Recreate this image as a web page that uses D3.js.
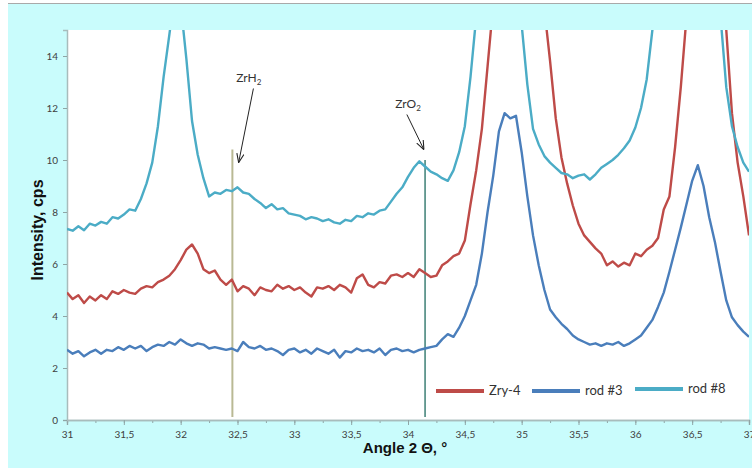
<!DOCTYPE html>
<html>
<head>
<meta charset="utf-8">
<style>
  body { margin: 0; background: #fff; }
  svg { display: block; }
  .tick text { font-family: Lato, "Open Sans", sans-serif; font-size: 10px; fill: #404040; }
</style>
</head>
<body>
<svg id="chart"></svg>
<script src="https://cdn.jsdelivr.net/npm/d3@7"></script>
<script>

  const width = 752,
        height = 468

  // plot box inside the picture
  const margin = {left: 67, top: 30, right: 3, bottom: 48}
  const plotW = width - margin.left - margin.right,
        plotH = height - margin.top - margin.bottom

  const colors = {zry: '#be4b48', rod3: '#4a7ebb', rod8: '#4bacc6',
                  bg: '#c9fcfc', text: '#404040'}

  // 2 theta, step 0.05 from 31 to 37
  const angle = d3.range(121).map(i => +(31 + i * 0.05).toFixed(2))

  const zry4 = [
    4.90, 4.65, 4.80, 4.50, 4.75, 4.60, 4.80, 4.65, 4.95, 4.85,
    5.00, 4.90, 4.85, 5.05, 5.15, 5.10, 5.30, 5.40, 5.55, 5.80,
    6.15, 6.55, 6.75, 6.40, 5.80, 5.65, 5.75, 5.40, 5.20, 5.40,
    4.95, 5.15, 5.05, 4.80, 5.10, 5.00, 4.95, 5.20, 5.05, 5.15,
    5.00, 5.10, 4.90, 4.75, 5.10, 5.05, 5.15, 5.00, 5.20, 5.10,
    4.90, 5.45, 5.60, 5.20, 5.10, 5.30, 5.25, 5.55, 5.60, 5.50,
    5.65, 5.50, 5.80, 5.65, 5.50, 5.55, 5.95, 6.10, 6.30, 6.40,
    6.90, 8.30, 9.60, 11.2, 13.6, 16.0, 18.5, 20.0, 20.5, 20.5,
    20.5, 20.0, 19.0, 17.5, 15.8, 13.8, 11.6, 10.1, 9.10, 8.25,
    7.55, 7.10, 6.85, 6.60, 6.40, 5.95, 6.10, 5.90, 6.05, 5.95,
    6.40, 6.30, 6.55, 6.70, 7.00, 8.10, 8.60, 10.5, 12.8, 15.5,
    18.0, 20.0, 21.0, 21.0, 20.0, 18.0, 15.0, 11.8, 9.90, 8.60,
    7.10]

  const rod3 = [
    2.70, 2.55, 2.65, 2.45, 2.60, 2.70, 2.55, 2.70, 2.65, 2.80,
    2.70, 2.85, 2.75, 2.85, 2.65, 2.80, 2.90, 2.85, 3.00, 2.90,
    3.10, 2.95, 2.85, 2.95, 2.90, 2.75, 2.80, 2.75, 2.70, 2.75,
    2.65, 3.00, 2.80, 2.75, 2.85, 2.70, 2.75, 2.65, 2.50, 2.70,
    2.75, 2.60, 2.70, 2.55, 2.75, 2.65, 2.55, 2.70, 2.40, 2.65,
    2.60, 2.75, 2.65, 2.70, 2.60, 2.75, 2.50, 2.70, 2.75, 2.65,
    2.70, 2.60, 2.70, 2.75, 2.80, 2.85, 3.10, 3.30, 3.20, 3.55,
    4.00, 4.60, 5.20, 6.40, 8.00, 9.40, 11.1, 11.8, 11.6, 11.7,
    10.3, 8.60, 7.10, 5.95, 5.00, 4.25, 3.95, 3.70, 3.50, 3.25,
    3.10, 3.00, 2.90, 2.95, 2.85, 2.95, 2.90, 3.00, 2.85, 2.95,
    3.10, 3.25, 3.55, 3.85, 4.35, 4.90, 5.70, 6.55, 7.40, 8.30,
    9.20, 9.80, 9.00, 7.80, 6.85, 5.70, 4.60, 3.95, 3.65, 3.40,
    3.20]

  const rod8 = [
    7.35, 7.28, 7.45, 7.30, 7.55, 7.48, 7.62, 7.55, 7.80, 7.75,
    7.90, 8.10, 8.05, 8.50, 9.10, 9.90, 11.3, 13.2, 14.8, 16.5,
    16.0, 13.9, 11.5, 10.2, 9.30, 8.60, 8.75, 8.70, 8.85, 8.80,
    8.95, 8.75, 8.70, 8.50, 8.35, 8.15, 8.30, 8.10, 8.15, 7.95,
    7.90, 7.85, 7.72, 7.80, 7.75, 7.65, 7.72, 7.60, 7.55, 7.70,
    7.65, 7.85, 7.80, 7.95, 7.90, 8.05, 8.10, 8.40, 8.70, 8.95,
    9.35, 9.70, 9.95, 9.75, 9.55, 9.45, 9.30, 9.20, 9.60, 10.3,
    11.3, 13.2, 15.5, 17.0, 18.0, 18.5, 18.5, 18.5, 18.0, 17.0,
    15.2, 12.9, 11.2, 10.6, 10.15, 9.90, 9.70, 9.50, 9.45, 9.30,
    9.40, 9.45, 9.25, 9.45, 9.70, 9.85, 10.0, 10.2, 10.45, 10.75,
    11.25, 12.0, 13.1, 15.0, 17.0, 18.0, 19.0, 19.5, 19.5, 19.5,
    19.5, 19.5, 19.0, 18.5, 17.5, 15.5, 12.8, 11.3, 10.5, 9.90,
    9.55]

  const series = [
    {name: 'Zry-4', values: zry4, color: colors.zry},
    {name: 'rod #3', values: rod3, color: colors.rod3},
    {name: 'rod #8', values: rod8, color: colors.rod8}
  ]

  const xTicks = d3.range(31, 37.01, 0.5)
  const xMinor = d3.range(31, 37.01, 0.25)
  const yTicks = [0, 2, 4, 6, 8, 10, 12, 14]

  // marker lines and notes
  const markers = [
    {angle: 32.455, top: 10.4, color: '#b9b994', width: 2},
    {angle: 34.15, top: 10.0, color: '#0b5f52', width: 1.2}
  ]
  const notes = [
    {label: 'ZrH', sub: '2', tx: 32.6, ty: 13.0, x1: 32.64, y1: 12.75, x2: 32.51, y2: 9.9},
    {label: 'ZrO', sub: '2', tx: 34.0, ty: 12.0, x1: 33.99, y1: 11.75, x2: 34.14, y2: 10.4}
  ]

  const xScale = d3.scaleLinear()
    .domain([31, 37])
    .range([0, plotW])

  const yScale = d3.scaleLinear()
    .domain([0, 15])
    .range([plotH, 0])

  const svg = d3.select('#chart')
    .attr('width', width)
    .attr('height', height)

  // cyan frame like the spreadsheet chart area
  svg.append('rect')
    .attr('x', 8).attr('y', 3)
    .attr('width', width - 8).attr('height', height - 3)
    .attr('fill', colors.bg)
  svg.append('line')
    .attr('x1', 8).attr('x2', width)
    .attr('y1', 3.5).attr('y2', 3.5)
    .attr('stroke', '#a9a9a9')

  const g = svg.append('g')
    .attr('transform', `translate(${margin.left}, ${margin.top})`)

  g.append('rect')
    .attr('width', plotW)
    .attr('height', plotH)
    .attr('fill', '#fff')

  g.append('clipPath')
    .attr('id', 'clip')
    .append('rect')
    .attr('width', plotW)
    .attr('height', plotH)

  // axes
  const gx = g.append('g')
    .attr('transform', `translate(0, ${plotH})`)
    .call(d3.axisBottom(xScale).tickValues(xMinor).tickSize(3).tickFormat(''))
  const gx2 = g.append('g')
    .attr('transform', `translate(0, ${plotH})`)
    .call(d3.axisBottom(xScale).tickValues(xTicks).tickSize(5).tickPadding(6)
      .tickFormat(d => String(+d.toFixed(1)).replace('.', ',')))
  const gy = g.append('g')
    .call(d3.axisLeft(yScale).tickValues(yTicks).tickSize(4).tickPadding(5))

  ;[gx, gx2, gy].forEach(a => {
    a.select('.domain').attr('stroke', '#a8bcbc').attr('stroke-width', 1.5)
    a.selectAll('.tick line').attr('stroke', '#8fa5a5')
  })

  // markers
  g.selectAll('.marker')
    .data(markers)
    .enter()
    .append('line')
    .attr('class', 'marker')
    .attr('x1', d => xScale(d.angle))
    .attr('x2', d => xScale(d.angle))
    .attr('y1', d => yScale(d.top))
    .attr('y2', plotH - 3)
    .attr('stroke', d => d.color)
    .attr('stroke-width', d => d.width)

  // curves
  const line = d3.line()
    .x((d, i) => xScale(angle[i]))
    .y(d => yScale(d))

  g.append('g')
    .attr('clip-path', 'url(#clip)')
    .selectAll('.curve')
    .data(series)
    .enter()
    .append('path')
    .attr('class', 'curve')
    .attr('d', d => line(d.values))
    .attr('fill', 'none')
    .attr('stroke', d => d.color)
    .attr('stroke-width', 2.4)
    .attr('stroke-linejoin', 'round')

  // notes with arrows
  svg.append('defs').append('marker')
    .attr('id', 'arrow')
    .attr('viewBox', '0 0 10 10')
    .attr('refX', 10).attr('refY', 5)
    .attr('markerWidth', 9).attr('markerHeight', 9)
    .attr('orient', 'auto')
    .append('path')
    .attr('d', 'M0,1 L10,5 L0,9')
    .attr('fill', 'none')
    .attr('stroke', '#222')
    .attr('stroke-width', 1.2)

  notes.forEach(n => {
    const t = g.append('text')
      .attr('x', xScale(n.tx))
      .attr('y', yScale(n.ty))
      .attr('text-anchor', 'middle')
      .style('font-family', 'Lato, "Open Sans", sans-serif')
      .style('font-size', '12px')
      .style('fill', '#333')
    t.append('tspan').text(n.label)
    t.append('tspan').attr('dy', 3).style('font-size', '8px').text(n.sub)

    g.append('line')
      .attr('x1', xScale(n.x1)).attr('y1', yScale(n.y1))
      .attr('x2', xScale(n.x2)).attr('y2', yScale(n.y2))
      .attr('stroke', '#222')
      .attr('stroke-width', 1)
      .attr('marker-end', 'url(#arrow)')
  })

  // legend
  const legendX = [369, 465, 568]
  const legend = g.selectAll('.legend')
    .data(series)
    .enter()
    .append('g')
    .attr('class', 'legend')
    .attr('transform', (d, i) => `translate(${legendX[i]}, ${i == 2 ? 359 : 361})`)
  legend.append('line')
    .attr('x1', 0).attr('x2', 48)
    .attr('stroke', d => d.color)
    .attr('stroke-width', 4)
  legend.append('text')
    .attr('x', 53)
    .attr('y', 4)
    .style('font-family', 'Lato, "Open Sans", sans-serif')
    .style('font-size', '13px')
    .style('fill', '#333')
    .text(d => d.name)

  // axis titles
  svg.append('text')
    .attr('transform', `translate(43, ${margin.top + plotH / 2 + 5}) rotate(-90)`)
    .style('text-anchor', 'middle')
    .style('font-family', '"Liberation Sans", Arial, sans-serif')
    .style('font-weight', 'bold')
    .style('font-size', '16px')
    .style('fill', '#111')
    .text('Intensity, cps')

  svg.append('text')
    .attr('x', 405)
    .attr('y', 453)
    .style('text-anchor', 'middle')
    .style('font-family', '"Liberation Sans", Arial, sans-serif')
    .style('font-weight', 'bold')
    .style('font-size', '15px')
    .style('fill', '#111')
    .text('Angle 2 Θ, °')

</script>
</body>
</html>
